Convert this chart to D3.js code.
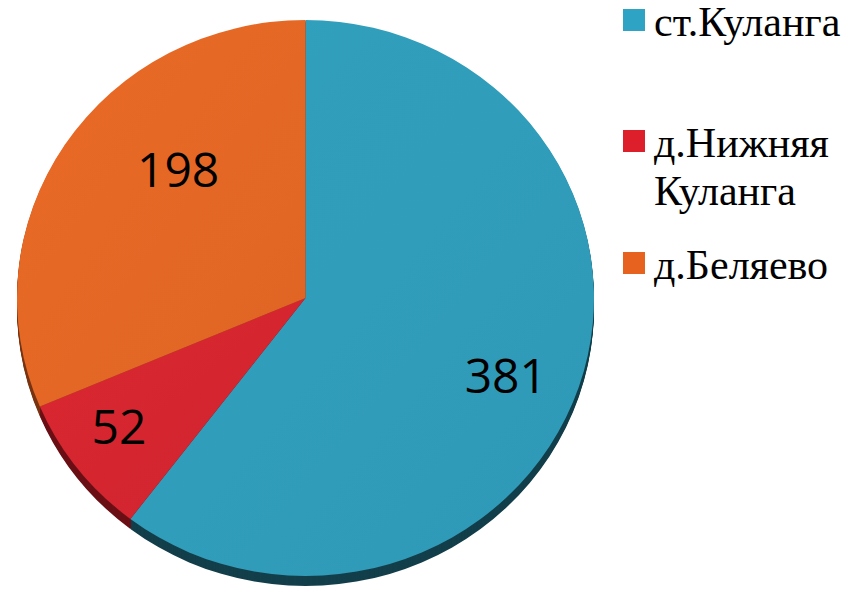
<!DOCTYPE html>
<html>
<head>
<meta charset="utf-8">
<script src="https://cdn.jsdelivr.net/npm/d3@7"></script>
<style>
  body { margin: 0; background: #fff; }
</style>
</head>
<body>
<div id="chart"></div>
<script>
const categories = ['ст.Куланга', 'д.Нижняя Куланга', 'д.Беляево'];
const legendLines = [['ст.Куланга'], ['д.Нижняя', 'Куланга'], ['д.Беляево']];
const values = [381, 52, 198];

const topColors = ['#309cb9', '#d42630', '#e36725'];
const sideColors = ['#133f4b', '#6b1016', '#7a3512'];
const legendColors = ['#2ea3c3', '#dc1f2a', '#e8621f'];

// label nudges in px from the 0.7-radius centroid
const labelNudge = [[9, 15], [-27, 9], [41, -21]];

const width = 860;
const height = 589;
const cx = 305.5, cy = 298;
const rx = 288.5, ry = 278;
const depth = 10;

const svg = d3.select('#chart').append('svg')
  .attr('width', width)
  .attr('height', height);

const pie = d3.pie().sort(null).value(d => d);
const arcs = pie(values);

const arc = d3.arc().innerRadius(0).outerRadius(rx);
const labelArc = d3.arc().innerRadius(rx * 0.7).outerRadius(rx * 0.7);

// side of the disc: stacked copies shifted down
const side = svg.append('g');
for (let t = depth; t >= 1; t--) {
  side.append('g')
    .attr('transform', `translate(${cx},${cy + t}) scale(1,${ry / rx})`)
    .selectAll('path')
    .data(arcs)
    .join('path')
    .attr('d', arc)
    .attr('fill', (d, i) => sideColors[i]);
}

// top face
const defs = svg.append('defs');
topColors.forEach((c, i) => {
  const g = defs.append('linearGradient')
    .attr('id', 'grad' + i)
    .attr('x1', 0).attr('y1', 0).attr('x2', 1).attr('y2', 1);
  g.append('stop').attr('offset', '0%').attr('stop-color', d3.color(c).brighter(0.08));
  g.append('stop').attr('offset', '100%').attr('stop-color', d3.color(c).darker(0.05));
});

svg.append('g')
  .attr('transform', `translate(${cx},${cy}) scale(1,${ry / rx})`)
  .selectAll('path')
  .data(arcs)
  .join('path')
  .attr('d', arc)
  .attr('fill', (d, i) => `url(#grad${i})`);

// value labels
svg.append('g')
  .selectAll('text')
  .data(arcs)
  .join('text')
  .attr('x', (d, i) => cx + labelArc.centroid(d)[0] + labelNudge[i][0])
  .attr('y', (d, i) => cy + labelArc.centroid(d)[1] * ry / rx + labelNudge[i][1])
  .attr('dy', '0.36em')
  .attr('text-anchor', 'middle')
  .attr('font-family', '"Open Sans", sans-serif')
  .attr('font-size', 48)
  .attr('fill', '#000')
  .text(d => d.value);

// legend
const legendTop = [9, 130, 252];
const legend = svg.append('g');
categories.forEach((c, i) => {
  const item = legend.append('g').attr('transform', `translate(623,${legendTop[i]})`);
  item.append('rect')
    .attr('width', 22)
    .attr('height', 22)
    .attr('fill', legendColors[i]);
  const text = item.append('text')
    .attr('x', 31)
    .attr('y', 27)
    .attr('font-family', '"Liberation Serif", "Times New Roman", serif')
    .attr('font-size', 42)
    .attr('fill', '#000');
  legendLines[i].forEach((line, j) => {
    text.append('tspan')
      .attr('x', 31)
      .attr('dy', j === 0 ? 0 : 48)
      .text(line);
  });
});
</script>
</body>
</html>
